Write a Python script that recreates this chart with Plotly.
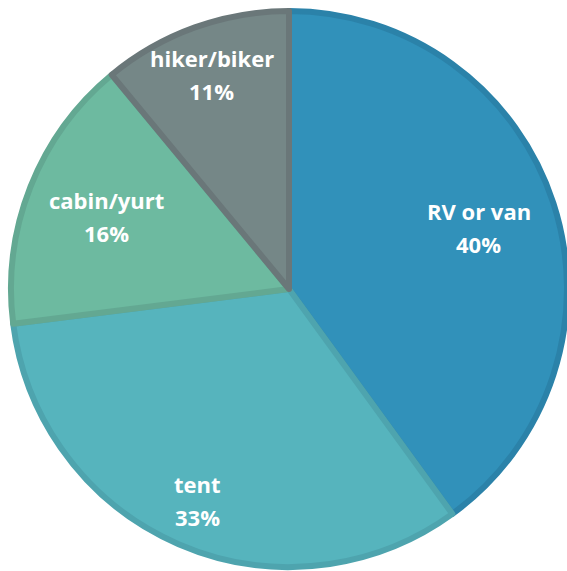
import math
import plotly.graph_objects as go

labels = ["RV or van", "tent", "cabin/yurt", "hiker/biker"]
values = [40, 33, 16, 11]
fill_colors = ["#3191BA", "#56B4BD", "#6DBAA0", "#758787"]
line_colors = ["#2B82A9", "#4EA4AE", "#63A892", "#6A7779"]
# radial position of each label block, as a fraction of the pie radius
label_radius = [0.71, 0.82, 0.70, 0.81]

PLOT = 556  # plot area size in px
RADIUS_PX = 281

fig = go.Figure(go.Pie(
    labels=labels,
    values=values,
    sort=False,
    direction="clockwise",
    rotation=0,
    marker=dict(colors=fill_colors, line=dict(color=line_colors, width=6)),
    textinfo="none",
    showlegend=False,
    hoverinfo="skip",
))

total = sum(values)
cum = 0
font = dict(family="Open Sans", size=22, color="white")
for lab, v, rf in zip(labels, values, label_radius):
    mid = (cum + v / 2) / total * 2 * math.pi
    cum += v
    r = rf * RADIUS_PX
    x = 0.5 + r * math.sin(mid) / PLOT
    y = 0.5 + r * math.cos(mid) / PLOT
    pct = f"{round(v / total * 100)}%"
    fig.add_annotation(x=x, y=y, xref="paper", yref="paper", text=f"<b>{lab}</b>",
                       showarrow=False, font=font, yshift=16.5, xanchor="center", yanchor="middle")
    fig.add_annotation(x=x, y=y, xref="paper", yref="paper", text=f"<b>{pct}</b>",
                       showarrow=False, font=font, yshift=-16.5, xanchor="center", yanchor="middle")

fig.update_layout(
    width=567, height=571,
    margin=dict(l=11, r=0, t=11, b=4),
    paper_bgcolor="white",
    plot_bgcolor="white",
)
fig.write_html(
    "out.html",
    config={"displayModeBar": False},
    post_script="document.body.style.margin='0';document.body.style.overflow='hidden';",
)
